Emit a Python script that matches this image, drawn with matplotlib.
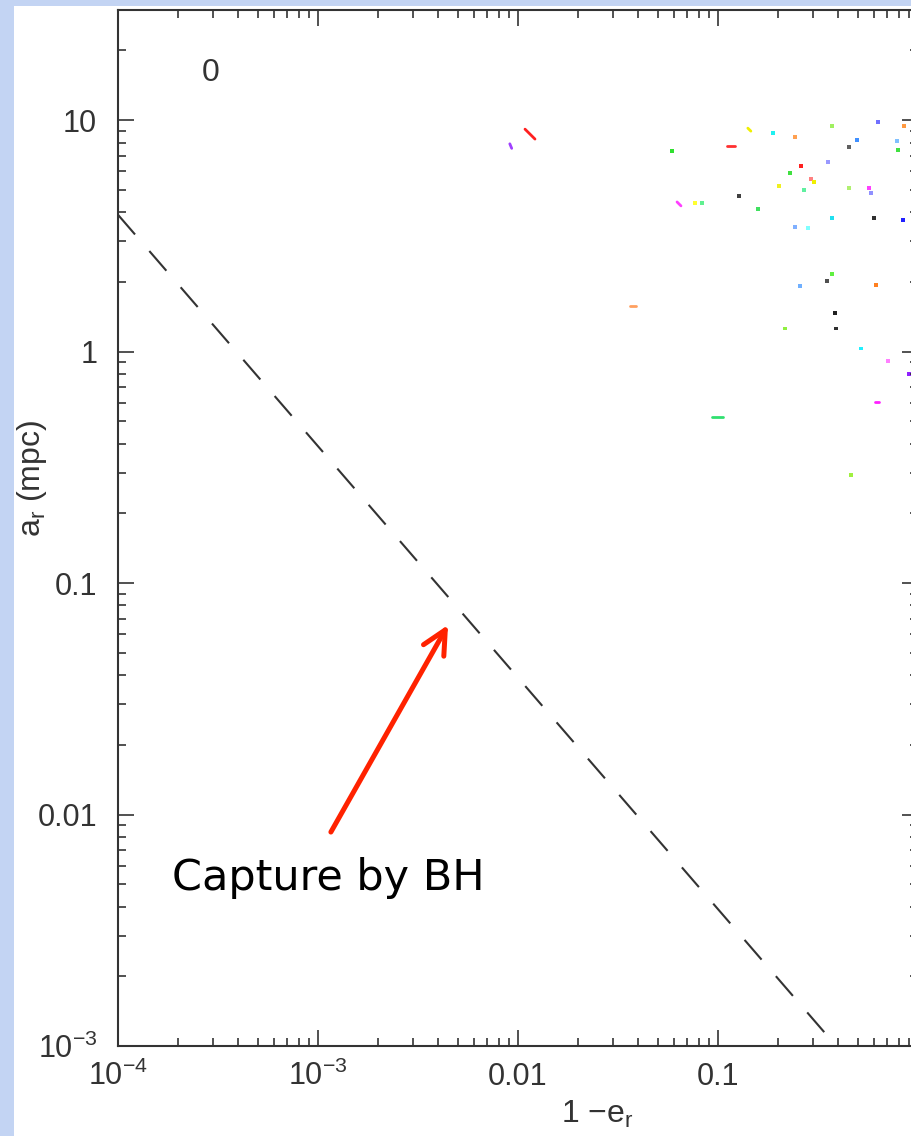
import matplotlib.pyplot as plt
from matplotlib.patches import Rectangle
from matplotlib.ticker import FixedLocator, FixedFormatter, LogLocator, NullFormatter

plt.rcParams["font.family"] = "Liberation Sans"
plt.rcParams["mathtext.fontset"] = "custom"
plt.rcParams["mathtext.rm"] = "Liberation Sans"
plt.rcParams["mathtext.it"] = "Liberation Sans"

W, H = 911, 1136

# axis ticks (the "1" tick sits on the cropped right edge, so no label there)
x_major = [1e-4, 1e-3, 1e-2, 1e-1, 1]
x_labels = [r"$\mathregular{10^{-4}}$", r"$\mathregular{10^{-3}}$", "0.01", "0.1", ""]
y_major = [1e-3, 1e-2, 1e-1, 1, 10]
y_labels = [r"$\mathregular{10^{-3}}$", "0.01", "0.1", "1", "10"]

# single orbits (1-e_r, a_r in mpc) at t = 0
dot_x = [0.0589, 0.188, 0.243, 0.372, 0.631, 0.851, 0.785, 0.794, 0.495, 0.452,
         0.355, 0.260, 0.229, 0.292, 0.302, 0.202, 0.269, 0.452, 0.569, 0.582,
         0.0767, 0.0832, 0.127, 0.158, 0.372, 0.603, 0.841, 0.243, 0.282, 0.372,
         0.351, 0.257, 0.617, 0.385, 0.216, 0.389, 0.519, 0.708, 0.905, 0.462]
dot_y = [7.35, 8.78, 8.45, 9.42, 9.80, 9.42, 8.11, 7.42, 8.20, 7.64,
         6.59, 6.33, 5.90, 5.56, 5.40, 5.19, 4.98, 5.09, 5.09, 4.84,
         4.38, 4.38, 4.70, 4.13, 3.78, 3.78, 3.70, 3.45, 3.42, 2.16,
         2.02, 1.92, 1.94, 1.47, 1.26, 1.26, 1.03, 0.91, 0.80, 0.293]
dot_c = ["#30e030", "#20f0f0", "#ffa050", "#a0f060", "#7070ff", "#ff9940", "#80c0ff", "#40e040", "#4090ff", "#606060",
         "#9999ff", "#ff2020", "#40e040", "#ff8080", "#f0f000", "#f0f020", "#60f0a0", "#b0f070", "#ff40ff", "#9090ff",
         "#ffff30", "#60f090", "#404040", "#40e060", "#20e0f0", "#303030", "#2020ff", "#80b0ff", "#80ffff", "#60f040",
         "#505050", "#70b0ff", "#ff8020", "#202020", "#90f040", "#303030", "#20f0ff", "#ff80ff", "#9020ff", "#a0f040"]

# orbits that moved a little during the step (start -> end)
seg_x0 = [0.01084, 0.0091, 0.0624, 0.0930, 0.111, 0.141, 0.0363, 0.61]
seg_x1 = [0.01216, 0.0093, 0.0653, 0.1065, 0.1216, 0.146, 0.0389, 0.64]
seg_y0 = [9.14, 7.9, 4.43, 0.521, 7.72, 9.23, 1.57, 0.605]
seg_y1 = [8.28, 7.55, 4.26, 0.521, 7.72, 8.96, 1.57, 0.605]
seg_c = ["#ff2020", "#a040ff", "#ff40ff", "#30e070", "#ff3030", "#f0f000", "#ffa060", "#ff20ff"]

# capture by the black hole
cap_x = [1e-4, 0.39]
cap_y = [3.9, 1e-3]

fig = plt.figure(figsize=(W / 100, H / 100), dpi=100, facecolor="#c3d4f3")
fig.add_artist(Rectangle((14 / W, 0), 1, 1 - 6 / H, transform=fig.transFigure,
                         facecolor="white", edgecolor="none", zorder=-1))

ax = fig.add_axes([118 / W, 1 - 1046 / H, 800 / W, 1036 / H])
ax.set_xscale("log")
ax.set_yscale("log")
ax.set_xlim(1e-4, 1)
ax.set_ylim(1e-3, 29.9)

ax.xaxis.set_major_locator(FixedLocator(x_major))
ax.xaxis.set_major_formatter(FixedFormatter(x_labels))
ax.yaxis.set_major_locator(FixedLocator(y_major))
ax.yaxis.set_major_formatter(FixedFormatter(y_labels))
for axis in (ax.xaxis, ax.yaxis):
    axis.set_minor_locator(LogLocator(base=10, subs=range(2, 10), numticks=20))
    axis.set_minor_formatter(NullFormatter())

for s in ax.spines.values():
    s.set_color("#333333")
    s.set_linewidth(1.5)
ax.tick_params(which="both", direction="in", top=True, right=True,
               colors="#333333", labelsize=22, width=1.2)
ax.tick_params(which="major", length=11.5)
ax.tick_params(which="minor", length=5.8)
ax.tick_params(axis="x", which="major", pad=28)
ax.tick_params(axis="y", which="major", pad=15)
for tick in ax.xaxis.get_major_ticks():
    tick.label1.set_verticalalignment("baseline")

ax.plot(cap_x, cap_y, color="#333333", lw=1.5, dashes=(12.5, 10.5))

for x0, x1, y0, y1, c in zip(seg_x0, seg_x1, seg_y0, seg_y1, seg_c):
    ax.plot([x0, x1], [y0, y1], color=c, lw=2.0, solid_capstyle="round")
ax.scatter(dot_x, dot_y, c=dot_c, s=7, marker="s", linewidths=0)

ax.text(2.9e-4, 16, "0", fontsize=23, color="#333333", ha="center", va="center")

ax.annotate("", xy=(4.47e-3, 0.0659), xytext=(1.16e-3, 8.4e-3),
            arrowprops=dict(arrowstyle="->, head_length=0.85, head_width=0.42",
                            mutation_scale=20, lw=3.6, color="#ff2200",
                            shrinkA=0, shrinkB=0))
ax.text(1.12e-3, 4.72e-3, "Capture by BH", family="DejaVu Sans", fontsize=31,
        ha="center", va="baseline", color="black")

fig.text(32 / W, 1 - 478 / H, r"a$_{\rm r}$ (mpc)", rotation=90, fontsize=23,
         color="#333333", ha="center", va="center")
fig.text(597 / W, 1 - 1114 / H, "1 \u2212e$_{\\rm r}$", fontsize=23,
         color="#333333", ha="center", va="center")

fig.savefig("out.png", dpi=100, facecolor=fig.get_facecolor())
